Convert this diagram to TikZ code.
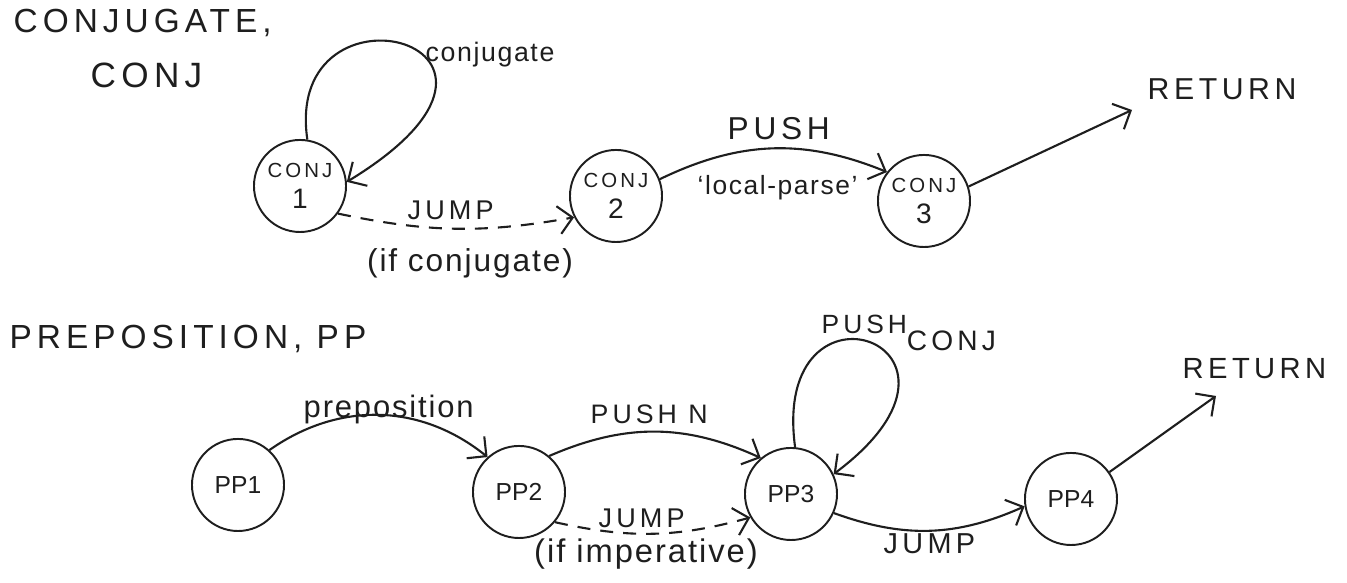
\documentclass[tikz,border=0pt]{standalone}
\usepackage{fontspec}
\setmainfont{Liberation Sans}
\newfontfamily\capsfont[LetterSpace=15]{Liberation Sans}
\newfontfamily\lowfont[LetterSpace=6]{Liberation Sans}
\usetikzlibrary{arrows.meta}
\definecolor{ink}{RGB}{30,30,30}
\newcommand{\fsz}[1]{\fontsize{#1}{#1}\selectfont}
\tikzset{
  st/.style={circle, draw=ink, line width=0.55pt, minimum size=0.92cm, inner sep=0pt,
             align=center, text=ink},
  tr/.style={-{Straight Barb[length=1.4mm,width=2.8mm]}, ink, line width=0.6pt},
  jmp/.style={tr, dash pattern=on 1.3mm off 1mm},
  ttl/.style={anchor=base west, text=ink, inner sep=0pt},
  lbl/.style={text=ink, inner sep=0pt},
}

\begin{document}
\begin{tikzpicture}[x=0.01cm, y=0.01cm]
    \useasboundingbox (0,0) rectangle (1347,583);
    % conjunction network
    \node[ttl, font={\capsfont\fsz{9.5}}] (ctitle) at (13,550) {CONJUGATE,};
    \node[ttl, font={\capsfont\fsz{10}}] (cabbr) at (90,495) {CONJ};
    \foreach \n/\x/\y/\k in {c1/300/397/1, c2/616/387/2, c3/924/382/3}{
      \node[st, font={\capsfont\fontsize{5.8}{10}\selectfont}] (\n) at (\x,\y) {CONJ\\[-1pt]\fsz{8}\k};}
    \coordinate (cret) at (1132,473);
    \draw[tr] (c1.81) .. controls +(-25,170) and +(230,140) .. (c1.5);
    \draw[jmp] (c1.-36) to[bend right=11] (c2.207);
    \draw[tr] (c2.21) to[bend left=24] (c3.142);
    \draw[tr] (c3.18) -- (cret);
    \node[ttl, font={\lowfont\fsz{7.6}}] (lconj) at (425,521) {conjugate};
    \node[ttl, font={\capsfont\fsz{7.7}}] (ljump) at (407,363) {JUMP};
    \node[lbl, font={\lowfont\fsz{9}}] (lifc) at (470,320) {(if conjugate)};
    \node[ttl, font={\capsfont\fsz{9}}] (lpush) at (727,443) {PUSH};
    \node[ttl, font={\lowfont\fsz{7.5}}] (lparse) at (697,388) {‘local-parse’};
    \node[ttl, font={\capsfont\fsz{8.6}}] (lret) at (1147,483) {RETURN};
    % prepositional phrase network
    \node[ttl, font={\capsfont\fsz{9.5}}] (ptitle) at (9,234) {PREPOSITION, PP};
    \foreach \n/\x/\y/\k in {p1/238/98/1, p2/519/91/2, p3/791/89/3, p4/1071/84/4}{
      \node[st, font=\fsz{7}] (\n) at (\x,\y) {PP\k};}
    \coordinate (pret) at (1216,187);
    \draw[tr] (p1.48) to[bend left=37] (p2.132);
    \draw[tr] (p2.50) to[bend left=24] (p3.130);
    \draw[jmp] (p2.-40) to[bend right=14] (p3.210);
    \draw[tr] (p3.85) .. controls +(-25,185) and +(174,130) .. (p3.25);
    \draw[tr] (p3.-24) to[bend right=22] (p4.189);
    \draw[tr] (p4.35) -- (pret);
    \node[ttl, font={\lowfont\fsz{8.8}}] (lprep) at (303,165) {preposition};
    \node[ttl, font={\capsfont\fsz{7.6}}] (lpushn) at (590,159) {PUSH N};
    \node[ttl, font={\capsfont\fsz{7.7}}] (ljump2) at (598,55) {JUMP};
    \node[lbl, font={\lowfont\fsz{9.3}}] (limp) at (646,29) {(if imperative)};
    \node[ttl, font={\capsfont\fsz{7.5}}] (lpushc) at (821,249) {PUSH\raisebox{-4.8pt}{\fsz{8}CONJ}};
    \node[ttl, font={\capsfont\fsz{8.2}}] (ljump3) at (883,29) {JUMP};
    \node[ttl, font={\capsfont\fsz{8.3}}] (lret2) at (1182,204) {RETURN};
\end{tikzpicture}
\end{document}
